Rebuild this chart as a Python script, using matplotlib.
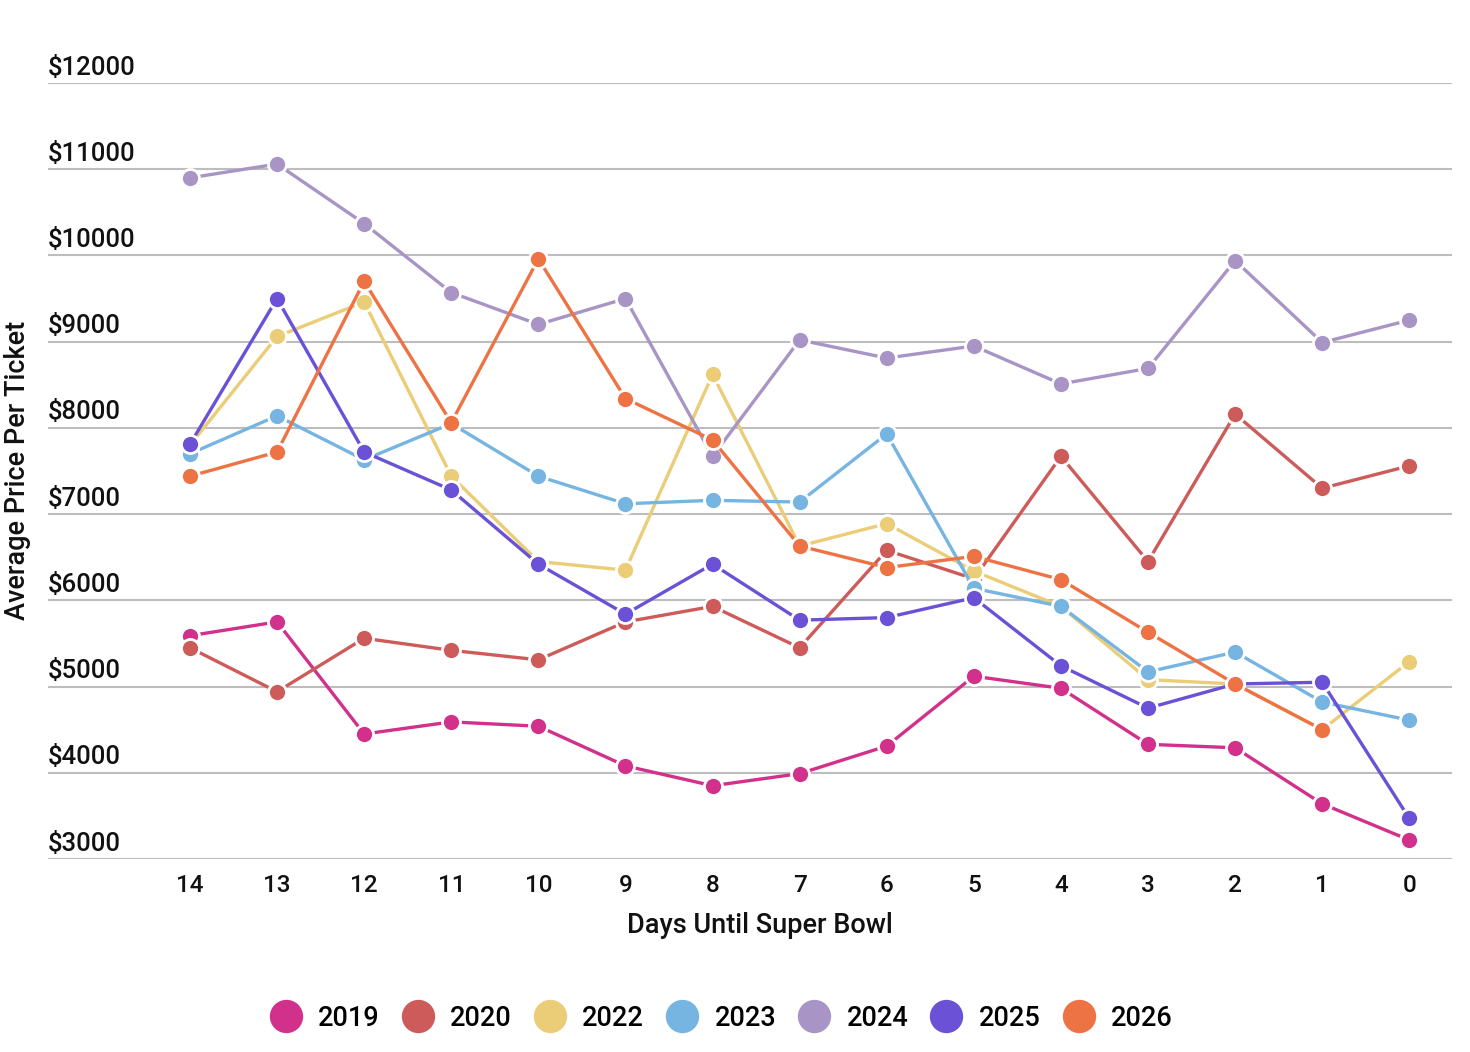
import matplotlib
matplotlib.use("Agg")
import matplotlib.pyplot as plt
from matplotlib.lines import Line2D

plt.rcParams['font.family'] = ['Roboto', 'DejaVu Sans']
plt.rcParams['font.weight'] = 500
plt.rcParams['axes.labelweight'] = 500

# Days until Super Bowl (x axis categories, left to right)
days = ["14", "13", "12", "11", "10", "9", "8", "7", "6", "5", "4", "3", "2", "1", "0"]

# Average price per ticket by year (None = no data)
price_2019 = [5590, 5750, 4450, 4590, 4540, 4080, 3850, 3990, 4310, 5120, 4980, 4330, 4290, 3640, 3220]
price_2020 = [5450, 4940, 5560, 5420, 5310, 5750, 5930, 5450, 6580, 6250, 7670, 6450, 8160, 7300, 7560]
price_2022 = [7800, 9060, 9460, 7440, 6450, 6350, 8620, 6630, 6890, 6340, 5930, 5080, 5030, 4500, 5290]
price_2023 = [7700, 8140, 7630, 8050, 7440, 7120, 7160, 7140, 7930, 6140, 5930, 5170, 5400, 4820, 4610]
price_2024 = [10900, 11060, 10370, 9570, 9200, 9500, 7670, 9020, 8810, 8950, 8510, 8690, 9940, 8990, 9250]
price_2025 = [7810, 9500, 7720, 7280, 6420, 5840, 6420, 5770, 5800, 6030, 5240, 4750, 5030, 5050, 3470]
price_2026 = [7440, 7720, 9700, 8060, 9960, 8340, 7860, 6630, 6380, 6510, 6240, 5630, 5030, 4500, None]

years = ["2019", "2020", "2022", "2023", "2024", "2025", "2026"]
series = [price_2019, price_2020, price_2022, price_2023, price_2024, price_2025, price_2026]
colors = ["#d1318b", "#cd5b5a", "#ebcc77", "#76b4e1", "#a894c5", "#6a51d5", "#ee7344"]

yticks = [3000, 4000, 5000, 6000, 7000, 8000, 9000, 10000, 11000, 12000]

fig = plt.figure(figsize=(14.7, 10.52), dpi=100)
ax = fig.add_axes([48 / 1470, 1 - 859 / 1052, (1452 - 48) / 1470, (859 - 83) / 1052])

x = list(range(len(days)))
ax.set_xlim(-1.63, 14.49)
ax.set_ylim(3000, 12000)

# gridlines + labels sitting on top of them
for v in yticks:
    ax.axhline(v, color="#bdbdbd", lw=1.5, zorder=0)
    ax.annotate(f"${v}", xy=(0, v), xycoords=("axes fraction", "data"),
                xytext=(0, 2.5), textcoords="offset points",
                ha="left", va="bottom", fontsize=18.5, color="#111111")

for i, (vals, c) in enumerate(zip(series, colors)):
    xs = [xi for xi, v in zip(x, vals) if v is not None]
    ys = [v for v in vals if v is not None]
    ax.plot(xs, ys, color=c, lw=2.4, marker="o", markersize=13,
            markeredgecolor="white", markeredgewidth=2, clip_on=False,
            zorder=3 + i)

for s in ax.spines.values():
    s.set_visible(False)
ax.set_yticks([])
ax.set_xticks(x)
ax.set_xticklabels(days, fontsize=17.5, color="#111111")
ax.tick_params(axis="x", length=0, pad=11)
ax.set_xlabel("Days Until Super Bowl", fontsize=19.5, fontweight=500,
              color="#111111", labelpad=12)
ax.xaxis.set_label_coords((760 - 48) / (1452 - 48), -0.068)

fig.text(18 / 1470, 1 - 470 / 1052, "Average Price Per Ticket", rotation=90,
         ha="center", va="center", fontsize=19.5, fontweight=500, color="#111111")

handles = [Line2D([], [], color=c, marker="o", linestyle="none", markersize=24,
                  markeredgecolor="white", markeredgewidth=0) for c in colors]
fig.legend(handles, years, loc="center", bbox_to_anchor=(721 / 1470, 1 - 1018 / 1052),
           ncol=7, frameon=False, fontsize=19.5, handletextpad=0.6, columnspacing=0.8,
           handlelength=1.2)

fig.savefig("out.png", dpi=100)
